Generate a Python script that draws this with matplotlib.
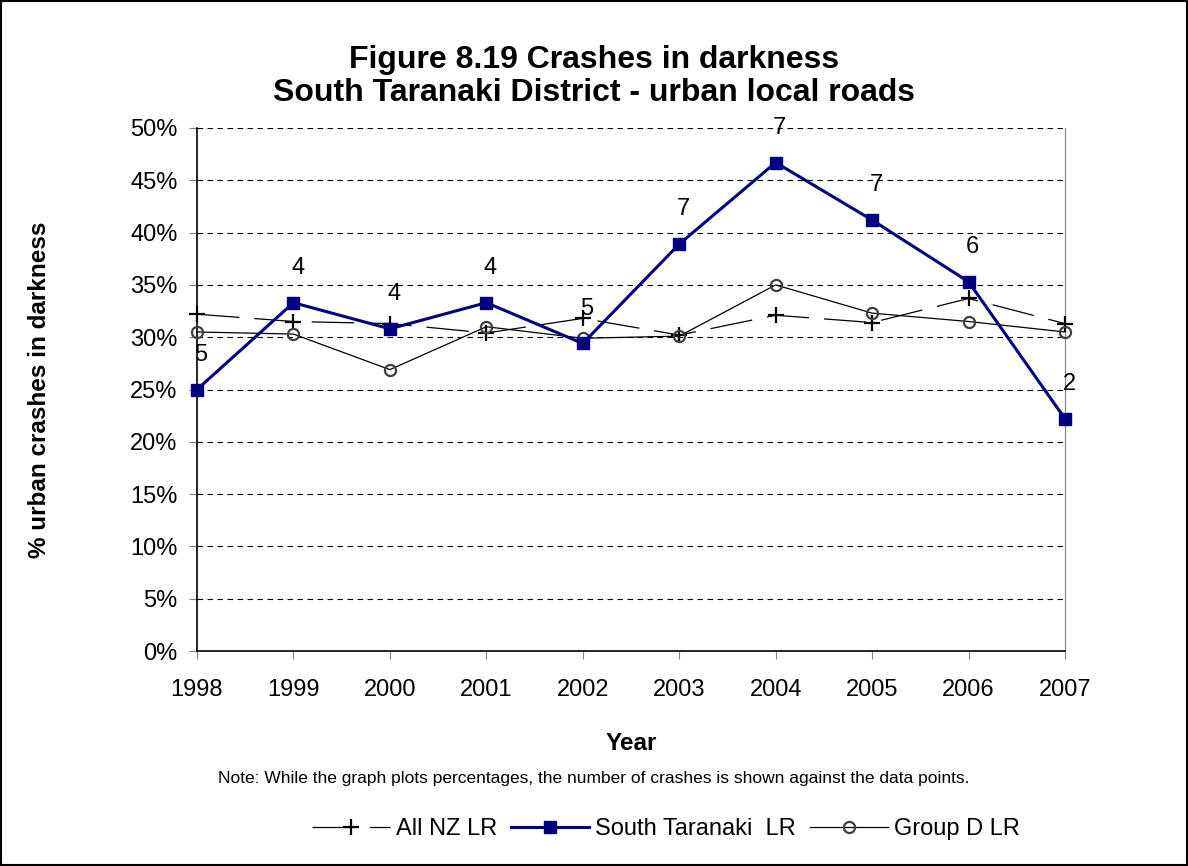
import matplotlib
matplotlib.use("Agg")
from matplotlib import pyplot as plt
from matplotlib.patches import Rectangle
from matplotlib.ticker import MultipleLocator, PercentFormatter

years = ["1998", "1999", "2000", "2001", "2002", "2003", "2004", "2005", "2006", "2007"]
all_nz = [32.2, 31.5, 31.3, 30.4, 31.8, 30.2, 32.1, 31.4, 33.7, 31.3]
south_taranaki = [25.0, 33.3, 30.8, 33.3, 29.4, 38.9, 46.7, 41.2, 35.3, 22.2]
group_d = [30.5, 30.3, 26.9, 31.0, 29.9, 30.1, 35.0, 32.3, 31.5, 30.5]
crash_counts = [5, 4, 4, 4, 5, 7, 7, 7, 6, 2]

plt.rcParams["font.family"] = ["Liberation Sans", "DejaVu Sans"]

fig = plt.figure(figsize=(11.88, 8.66), dpi=100)
ax = fig.add_axes([197 / 1188, 1 - 651 / 866, (1065 - 197) / 1188, (651 - 128) / 866])

x = list(range(len(years)))

line_nz, = ax.plot(x, all_nz, color="black", lw=0.9, marker="+", ms=11, mew=1.6,
                   label="All NZ LR", zorder=3, clip_on=False)
line_nz.set_dashes((34, 12))
ax.plot(x, south_taranaki, color="#000080", lw=2.2, marker="s", ms=9,
        label="South Taranaki  LR", zorder=5, clip_on=False)
ax.plot(x, group_d, color="black", lw=0.9, marker="o", ms=8, mfc="none", mec="#404040",
        mew=1.6, label="Group D LR", zorder=4, clip_on=False)

for xi, yi, n in zip(x, south_taranaki, crash_counts):
    ax.annotate(str(n), (xi, yi), xytext=(3, 25), textcoords="offset points",
                ha="center", va="center", fontsize=17)

ax.set_xlim(0, len(years) - 1)
ax.set_ylim(0, 50)
ax.set_xticks(x)
ax.set_xticklabels(years)
ax.yaxis.set_major_locator(MultipleLocator(5))
ax.yaxis.set_major_formatter(PercentFormatter(decimals=0))
ax.tick_params(labelsize=17, length=6, color="#808080")
ax.tick_params(axis="x", pad=14)
ax.tick_params(axis="y", pad=8)
ax.grid(axis="y", color="black", ls=(0, (5, 4)), lw=0.8)
ax.set_axisbelow(True)

ax.spines["top"].set_visible(False)
ax.spines["right"].set_color("#808080")
ax.spines["left"].set_linewidth(1.2)
ax.spines["bottom"].set_linewidth(1.2)

fig.text(0.5, 1 - 60 / 866, "Figure 8.19 Crashes in darkness", ha="center", va="center",
         fontsize=23, fontweight="bold")
fig.text(0.5, 1 - 93 / 866, "South Taranaki District - urban local roads", ha="center",
         va="center", fontsize=23, fontweight="bold")
fig.text(40 / 1188, 1 - 390 / 866, "% urban crashes in darkness", rotation=90, ha="center",
         va="center", fontsize=17.5, fontweight="bold")
fig.text(631 / 1188, 1 - 744 / 866, "Year", ha="center", va="center", fontsize=17.5,
         fontweight="bold")
fig.text(0.5, 1 - 779 / 866,
         "Note: While the graph plots percentages, the number of crashes is shown against the data points.",
         ha="center", va="center", fontsize=12.5)

fig.legend(loc="center", bbox_to_anchor=(666 / 1188, 1 - 829 / 866), ncol=3, frameon=False,
           fontsize=17, handlelength=3.3, handletextpad=0.25, columnspacing=0.6)

fig.add_artist(Rectangle((0.001, 0.001), 0.998, 0.998, transform=fig.transFigure,
                         fill=False, edgecolor="black", lw=1.5))

fig.savefig("out.png", dpi=100)
